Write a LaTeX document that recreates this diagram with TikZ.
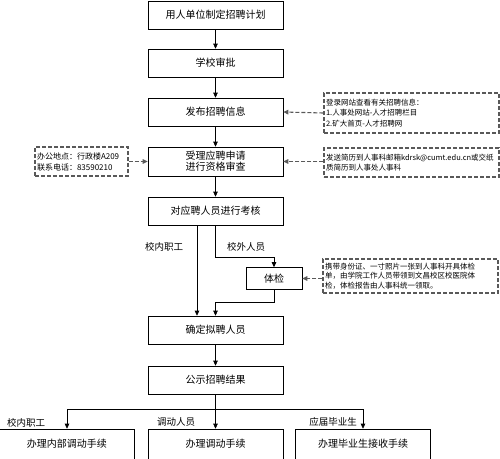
\documentclass[tikz,border=0pt]{standalone}
\usepackage{fontspec}
\setmainfont{Liberation Serif}
\newfontfamily\cjk{Noto Sans CJK SC}
\usetikzlibrary{arrows.meta,positioning}
\begin{document}
\begin{tikzpicture}[x=1pt,y=-1pt,
  mainbox/.style={draw,line width=0.6pt,minimum width=135pt,minimum height=28pt,inner sep=0pt,font=\cjk\fontsize{10}{12}\selectfont,align=center},
  notebox/.style={draw=black!65,line width=1.1pt,dash pattern=on 4pt off 2pt,inner xsep=2pt,inner ysep=0pt,font=\cjk\fontsize{7.5}{10}\selectfont,align=left,text width=#1},
  arr/.style={line width=0.6pt,-{Triangle[length=5pt,width=4.5pt]}},
  darr/.style={draw=black!65,line width=1.1pt,dash pattern=on 4pt off 2pt,-{Triangle[length=5pt,width=4.5pt]}},
  lbl/.style={font=\cjk\fontsize{9.5}{11}\selectfont,inner sep=0pt}]
\useasboundingbox (0,0) rectangle (500,458);
\fill[white] (0,0) rectangle (500,458);
\begin{scope}
\clip (0,0) rectangle (500,458);
% main column
\node[mainbox] (b1) at (215.5,15) {用人单位制定招聘计划};
\node[mainbox] (b2) at (215.5,63) {学校审批};
\node[mainbox] (b3) at (215.5,112) {发布招聘信息};
\node[mainbox,minimum height=29pt] (b4) at (215.5,161.5) {受理应聘申请\\[-1pt]进行资格审查};
\node[mainbox] (b5) at (215.5,211) {对应聘人员进行考核};
\node[mainbox,minimum width=56pt,minimum height=22pt] (tj) at (274,278.5) {体检};
\node[mainbox] (b6) at (215.5,330) {确定拟聘人员};
\node[mainbox] (b7) at (215.5,380) {公示招聘结果};
\node[mainbox,minimum height=30pt] (c1) at (67,444) {办理内部调动手续};
\node[mainbox,minimum height=30pt] (c2) at (215.5,444) {办理调动手续};
\node[mainbox,minimum height=30pt] (c3) at (363,444) {办理毕业生接收手续};
% notes
\node[notebox=171pt,minimum width=175pt,minimum height=40pt,font=\cjk\fontsize{7.5}{10.5}\selectfont] (n1) at (411.5,113) {登录网站查看有关招聘信息：\\1.人事处网站-人才招聘栏目\\2.矿大首页-人才招聘网};
\node[notebox=171pt,minimum width=175pt,minimum height=29pt] (n2) at (411.5,162.5) {发送简历到人事科邮箱kdrsk@cumt.edu.cn或交纸\\质简历到人事处人事科};
\node[notebox=89pt,minimum width=93pt,minimum height=29pt,font=\cjk\fontsize{8}{11}\selectfont] (n3) at (81.5,161.5) {办公地点：行政楼A209\\联系电话：83590210};
\node[notebox=171pt,minimum width=175pt,minimum height=34pt,font=\cjk\fontsize{7.5}{9.5}\selectfont] (n4) at (410.5,276) {携带身份证、一寸照片一张到人事科开具体检\\单，由学院工作人员带领到文昌校区校医院体\\检，体检报告由人事科统一领取。};
% main arrows
\draw[arr] (b1) -- (b2);
\draw[arr] (b2) -- (b3);
\draw[arr] (b3) -- (b4);
\draw[arr] (b4) -- (b5);
\draw[arr] (b6) -- (b7);
% note arrows
\draw[darr] (n1.west) -- (b3.east);
\draw[darr] (n2.west |- b4.east) -- (b4.east);
\draw[darr] (n3.east) -- (b4.west);
\draw[darr] (n4.west |- tj.east) -- (tj.east);
% branch after b5
\coordinate (k1) at (197,225);
\coordinate (k2) at (215.5,257);
\coordinate (k3) at (215.5,302);
\draw[arr] (k1) -- (k1 |- b6.north);
\draw[arr] (b5.south) -- (k2) -| (tj.north);
\draw[arr] (tj.south) |- (k3) -- (b6.north);
\node[lbl] (l1) at (164,247) {校内职工};
\node[lbl] (l2) at (246,247) {校外人员};
% bottom branch
\coordinate (h) at (215.5,409);
\draw[arr] (b7.south) -- (c2.north);
\draw[line width=0.6pt] (c1.north |- h) -- (c3.north |- h);
\draw[arr] (c1.north |- h) -- (c1.north);
\draw[arr] (c3.north |- h) -- (c3.north);
\node[lbl] (l3) at (26,423) {校内职工};
\node[lbl] (l4) at (176,422) {调动人员};
\node[lbl] (l5) at (333,422) {应届毕业生};
\end{scope}
\end{tikzpicture}
\end{document}
